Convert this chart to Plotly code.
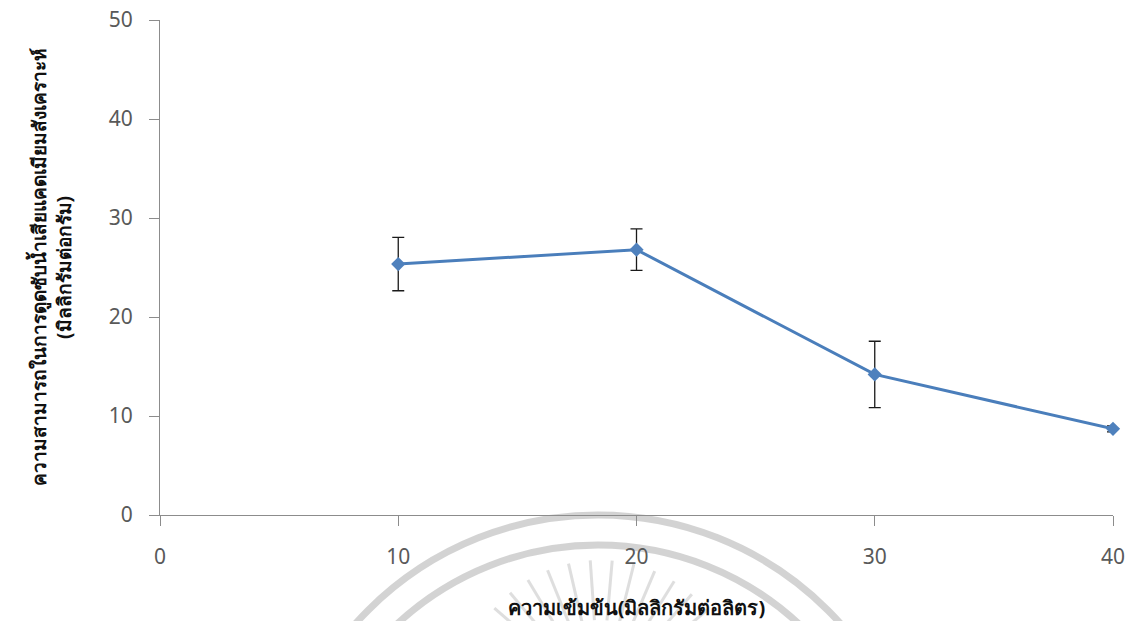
import math
import plotly.graph_objects as go

# Cadmium adsorption capacity vs. initial concentration
concentration = [10, 20, 30, 40]
capacity = [25.35, 26.8, 14.2, 8.7]
capacity_sd = [2.7, 2.1, 3.35, 0.3]

x_ticks = [0, 10, 20, 30, 40]
y_ticks = [0, 10, 20, 30, 40, 50]

x_title = "<b>ความเข้มข้น(มิลลิกรัมต่อลิตร)</b>"
y_title = "<b>ความสามารถในการดูดซับน้ำเสียแคดเมียมสังเคราะห์</b><br><b>(มิลลิกรัมต่อกรัม)</b>"

W, H = 1129, 621
M_L, M_R, M_T, M_B = 160, 16, 20, 106
PW, PH = W - M_L - M_R, H - M_T - M_B


def px(x, y):
    """Pixel position on the page -> paper coordinates."""
    return (x - M_L) / PW, (H - M_B - y) / PH


fig = go.Figure()
fig.add_trace(go.Scatter(
    x=concentration, y=capacity,
    mode="lines+markers",
    line=dict(color="#4A7EBB", width=3),
    marker=dict(symbol="diamond", size=11, color="#4F81BD"),
    error_y=dict(type="data", array=capacity_sd, visible=True,
                 color="#1a1a1a", thickness=1.3, width=6),
    showlegend=False,
    cliponaxis=False,
))

# faint seal watermark along the bottom of the page
seal = "rgba(175,175,175,0.55)"
shapes = []
cx, cy = 598, 840
for r, w in [(325, 7), (295, 7)]:
    x0, y0 = px(cx - r, cy - r)
    x1, y1 = px(cx + r, cy + r)
    shapes.append(dict(type="circle", xref="paper", yref="paper",
                       x0=x0, y0=y1, x1=x1, y1=y0,
                       line=dict(color=seal, width=w), layer="below"))
rcx, rcy = 600, 700
for ang in range(22, 160, 9):
    a = math.radians(ang)
    xa, ya = px(rcx + 80 * math.cos(a), rcy - 80 * math.sin(a))
    xb, yb = px(rcx + 140 * math.cos(a), rcy - 140 * math.sin(a))
    shapes.append(dict(type="line", xref="paper", yref="paper",
                       x0=xa, y0=ya, x1=xb, y1=yb,
                       line=dict(color="rgba(190,190,190,0.5)", width=3),
                       layer="below"))

axis_common = dict(
    showgrid=False, zeroline=False, automargin=False,
    showline=True, linecolor="#8c8c8c", linewidth=1,
    ticks="outside", ticklen=10, tickcolor="#8c8c8c", tickwidth=1,
    tickfont=dict(family="Noto Sans, DejaVu Sans, sans-serif", size=21, color="#595959"),
)

fig.update_layout(
    width=W, height=H,
    margin=dict(l=M_L, r=M_R, t=M_T, b=M_B),
    paper_bgcolor="white", plot_bgcolor="rgba(0,0,0,0)",
    shapes=shapes,
    xaxis=dict(range=[0, 40], tickvals=x_ticks, ticklabelstandoff=13,
               title=dict(text=x_title, standoff=35,
                          font=dict(family="Noto Sans, sans-serif", size=20, color="#111111")),
               **axis_common),
    yaxis=dict(range=[0, 50], tickvals=y_ticks, ticklabelstandoff=12,
               title=dict(text=y_title, standoff=32,
                          font=dict(family="Noto Sans, sans-serif", size=19, color="#111111")),
               **axis_common),
)

fig.write_html("out.html")
